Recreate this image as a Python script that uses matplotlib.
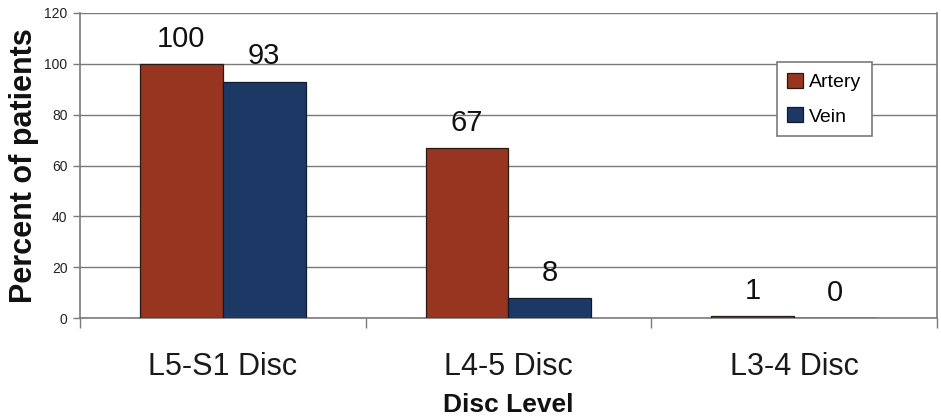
"""Grouped bar chart: percent of patients by disc level, artery vs vein."""
import matplotlib
matplotlib.use("Agg")
import matplotlib.pyplot as plt
import numpy as np
from matplotlib.ticker import FixedLocator, MultipleLocator, NullFormatter

levels = ["L5-S1 Disc", "L4-5 Disc", "L3-4 Disc"]
artery = [100, 67, 1]
vein = [93, 8, 0]

ARTERY_COLOR = "#973520"
VEIN_COLOR = "#1c3966"
GRID_COLOR = "#7a7a7a"

plt.rcParams["font.family"] = ["Liberation Sans", "DejaVu Sans"]

fig = plt.figure(figsize=(9.41, 4.17), dpi=100)
ax = fig.add_axes([0.085, 0.237, 0.9105, 0.732])

x = np.arange(len(levels))
w = 0.29
b1 = ax.bar(x - w / 2, artery, w, color=ARTERY_COLOR, edgecolor="#2a1a14",
            linewidth=0.9, label="Artery", zorder=3)
b2 = ax.bar(x + w / 2, vein, w, color=VEIN_COLOR, edgecolor="#111a2a",
            linewidth=0.9, label="Vein", zorder=3)

for bars, vals in ((b1, artery), (b2, vein)):
    for rect, v in zip(bars, vals):
        ax.annotate(f"{v}", (rect.get_x() + rect.get_width() / 2, v),
                    xytext=(0, 8), textcoords="offset points",
                    ha="center", va="bottom", fontsize=21, color="#111111")

ax.set_xlim(-0.5, len(levels) - 0.5)
ax.set_ylim(0, 120)
ax.yaxis.set_major_locator(MultipleLocator(20))
ax.grid(axis="y", color=GRID_COLOR, linewidth=1.0, zorder=0)

# category names sit between the group separators; ticks only at separators
ax.set_xticks(x)
ax.set_xticklabels(levels, fontsize=22, color="#1a1a1a")
ax.tick_params(axis="x", which="major", length=0, pad=24)
ax.xaxis.set_minor_locator(FixedLocator(np.arange(-0.5, len(levels), 1.0)))
ax.xaxis.set_minor_formatter(NullFormatter())
ax.tick_params(axis="x", which="minor", length=7, width=1.0, color=GRID_COLOR,
               direction="out")
ax.tick_params(axis="y", labelsize=10, length=5, width=1.0, color=GRID_COLOR,
               labelcolor="#222222", pad=4)

for side in ("left", "bottom", "right"):
    ax.spines[side].set_color(GRID_COLOR)
    ax.spines[side].set_linewidth(1.2)
ax.spines["top"].set_visible(False)

ax.set_ylabel("Percent of patients", fontsize=22, fontweight="bold",
              color="#111111", labelpad=4)
ax.set_xlabel("Disc Level", fontsize=19, fontweight="bold", color="#111111",
              labelpad=8)

leg = ax.legend(loc="upper right", bbox_to_anchor=(0.924, 0.839), fontsize=14,
                frameon=True, fancybox=False, framealpha=1.0,
                borderaxespad=0.0, handlelength=0.8, handleheight=0.8,
                handletextpad=0.3, labelspacing=0.85, borderpad=0.55)
leg.get_frame().set_edgecolor(GRID_COLOR)
leg.get_frame().set_linewidth(1.2)

fig.savefig("out.png", dpi=100)
